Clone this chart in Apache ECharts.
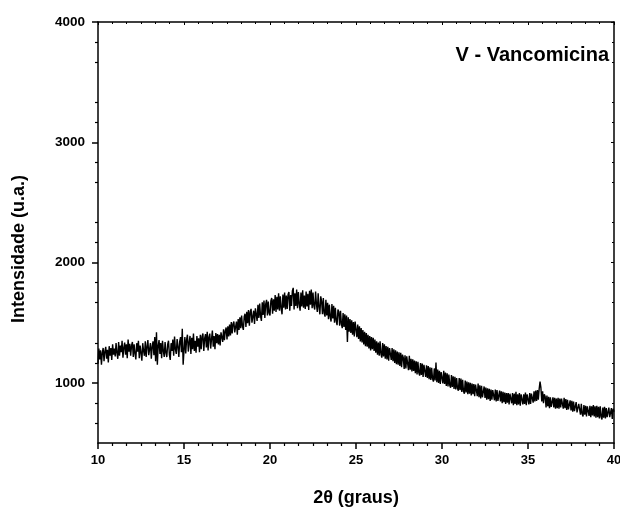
<!DOCTYPE html>
<html>
<head>
<meta charset="utf-8">
<title>DRX Vancomicina</title>
<script src="https://cdn.jsdelivr.net/npm/echarts@6/dist/echarts.min.js"></script>
<style>
  html, body { margin: 0; padding: 0; background: #fff; }
  #main { width: 620px; height: 508px; }
</style>
</head>
<body>
<div id="main"></div>
<script type="text/javascript">
// 2θ scan from 10° to 40°, readings evenly spaced
var angleStart = 10;
var angleEnd = 40;
// intensities, one row per degree (10° ... 39.95°, then 40°)
var intensity = [
  1160,1285,1195,1270,1150,1250,1290,1180,1262,1300,1200,1275,1170,1305,1225,1290,1190,1320,1235,1285,
  1220,1330,1250,1200,1340,1225,1310,1255,1350,1210,1290,1335,1235,1320,1205,1360,1260,1325,1225,1310,
  1340,1215,1320,1245,1195,1330,1260,1350,1205,1310,1250,1185,1330,1265,1225,1345,1215,1300,1355,1230,
  1240,1330,1200,1300,1345,1230,1380,1180,1420,1150,1310,1355,1240,1330,1205,1350,1265,1215,1340,1250,
  1215,1320,1350,1235,1190,1330,1265,1360,1225,1385,1280,1240,1365,1300,1215,1345,1380,1255,1450,1150,
  1270,1380,1245,1360,1400,1260,1335,1390,1240,1375,1280,1410,1265,1350,1250,1390,1300,1370,1255,1400,
  1280,1385,1410,1265,1370,1405,1295,1425,1270,1380,1410,1285,1365,1435,1300,1390,1280,1415,1330,1405,
  1320,1400,1310,1420,1435,1340,1445,1355,1430,1460,1360,1470,1385,1485,1395,1505,1410,1490,1510,1420,
  1420,1510,1400,1530,1440,1545,1455,1560,1470,1440,1550,1575,1465,1590,1495,1605,1475,1590,1615,1500,
  1505,1600,1490,1620,1635,1515,1650,1540,1660,1555,1515,1670,1565,1685,1540,1655,1690,1560,1675,1580,
  1560,1680,1705,1575,1695,1600,1730,1590,1715,1610,1745,1600,1720,1620,1570,1735,1625,1750,1610,1725,
  1615,1735,1755,1600,1730,1640,1765,1790,1610,1745,1640,1775,1620,1755,1655,1600,1750,1635,1770,1625,
  1725,1615,1760,1635,1740,1605,1765,1650,1775,1620,1750,1640,1610,1760,1655,1590,1745,1630,1570,1720,
  1680,1570,1705,1580,1550,1690,1560,1665,1530,1650,1550,1510,1655,1535,1640,1500,1625,1515,1480,1610,
  1590,1475,1600,1490,1455,1580,1465,1570,1440,1560,1340,1545,1425,1530,1415,1520,1400,1505,1385,1510,
  1495,1380,1485,1365,1470,1345,1455,1335,1440,1320,1425,1305,1415,1300,1400,1285,1390,1270,1380,1280,
  1375,1265,1360,1250,1345,1235,1335,1225,1345,1240,1210,1330,1220,1320,1200,1305,1195,1300,1185,1290,
  1300,1190,1290,1180,1280,1165,1270,1155,1260,1150,1255,1140,1250,1130,1235,1210,1115,1230,1120,1220,
  1210,1105,1225,1110,1200,1095,1195,1100,1185,1080,1180,1070,1175,1085,1060,1165,1065,1160,1050,1150,
  1155,1050,1145,1040,1140,1030,1130,1025,1125,1035,1010,1120,1020,1170,1005,1110,1000,1100,990,1090,
  1095,995,1100,990,1085,975,1080,970,1070,980,960,1065,965,1055,950,1050,945,1040,955,935,
  1040,940,1035,925,1025,930,910,1020,920,1010,905,1005,910,1000,895,995,905,990,890,985,
  985,890,995,880,980,870,975,880,865,970,875,960,860,955,865,950,850,945,860,940,
  950,855,945,845,940,850,835,935,845,930,830,925,840,920,825,915,835,915,820,910,
  920,830,915,815,910,825,925,815,905,820,915,810,905,915,820,905,825,920,815,905,
  910,820,915,825,910,925,835,930,845,935,850,940,860,950,1010,960,845,930,830,905,
  885,795,895,805,885,790,880,800,790,880,795,875,785,870,790,875,785,870,795,870,
  865,785,875,790,865,775,860,780,765,855,770,850,760,845,765,750,840,755,740,825,
  815,735,825,740,720,815,735,810,720,805,815,725,810,715,805,730,815,720,805,710,
  810,715,800,705,805,720,695,795,710,800,705,790,715,700,795,715,705,790,700,785,
  760
];
var yTickValues = [1000, 2000, 3000, 4000];
var sampleName = 'V - Vancomicina';
var xTitle = '2θ (graus)';
var yTitle = 'Intensidade (u.a.)';

window.onload = function () {
  var step = (angleEnd - angleStart) / (intensity.length - 1);
  var points = [];
  for (var i = 0; i < intensity.length; i++) {
    points.push([angleStart + i * step, intensity[i]]);
  }

  var font = '"Liberation Sans", Arial, sans-serif';
  var axisLine = { lineStyle: { color: '#000', width: 1.5 } };
  var plain = function (v) { return String(v); };

  var option = {
    animation: false,
    backgroundColor: '#fff',
    grid: { left: 98, right: 6, top: 22, bottom: 65, outerBoundsMode: 'none' },
    xAxis: [{
      type: 'value', min: 10, max: 40, interval: 5,
      axisLine: axisLine,
      axisTick: { inside: false, length: 6, lineStyle: { color: '#000', width: 1.5 } },
      minorTick: { show: true, splitNumber: 6, length: 3, lineStyle: { color: '#000', width: 1.2 } },
      splitLine: { show: false },
      axisLabel: { color: '#000', fontWeight: 'bold', fontSize: 13, fontFamily: font, margin: 11, formatter: plain }
    }, {
      type: 'value', position: 'top', min: 10, max: 40, interval: 5,
      axisLine: axisLine,
      axisTick: { inside: true, length: 3, lineStyle: { color: '#000' } },
      minorTick: { show: true, splitNumber: 6, length: 2, lineStyle: { color: '#000' } },
      splitLine: { show: false },
      axisLabel: { show: false }
    }],
    yAxis: [{
      type: 'value', min: 500, max: 4000, interval: 500,
      axisLine: axisLine,
      axisTick: { inside: false, length: 6, customValues: yTickValues, lineStyle: { color: '#000', width: 1.5 } },
      minorTick: { show: true, splitNumber: 3, length: 3, lineStyle: { color: '#000', width: 1.2 } },
      splitLine: { show: false },
      axisLabel: { color: '#000', fontWeight: 'bold', fontSize: 13.5, fontFamily: font, margin: 13,
                   customValues: yTickValues, formatter: plain }
    }, {
      type: 'value', position: 'right', min: 500, max: 4000, interval: 500,
      axisLine: axisLine,
      axisTick: { inside: true, length: 3, customValues: yTickValues, lineStyle: { color: '#000' } },
      minorTick: { show: true, splitNumber: 3, length: 2, lineStyle: { color: '#000' } },
      splitLine: { show: false },
      axisLabel: { show: false }
    }],
    series: [{
      type: 'line',
      data: points,
      showSymbol: false,
      sampling: null,
      lineStyle: { color: '#000', width: 1.4 },
      itemStyle: { color: '#000' }
    }],
    graphic: [{
      type: 'text', x: 609, y: 55,
      style: { text: sampleName, fill: '#000', font: 'bold 20px ' + font, align: 'right', verticalAlign: 'middle' }
    }, {
      type: 'text', x: 356, y: 498,
      style: { text: xTitle, fill: '#000', font: 'bold 18px ' + font, align: 'center', verticalAlign: 'middle' }
    }, {
      type: 'text', x: 19, y: 249, rotation: Math.PI / 2,
      style: { text: yTitle, fill: '#000', font: 'bold 18px ' + font, align: 'center', verticalAlign: 'middle' }
    }]
  };

  var myChart = echarts.init(document.getElementById('main'));
  myChart.setOption(option);
};
</script>
</body>
</html>
